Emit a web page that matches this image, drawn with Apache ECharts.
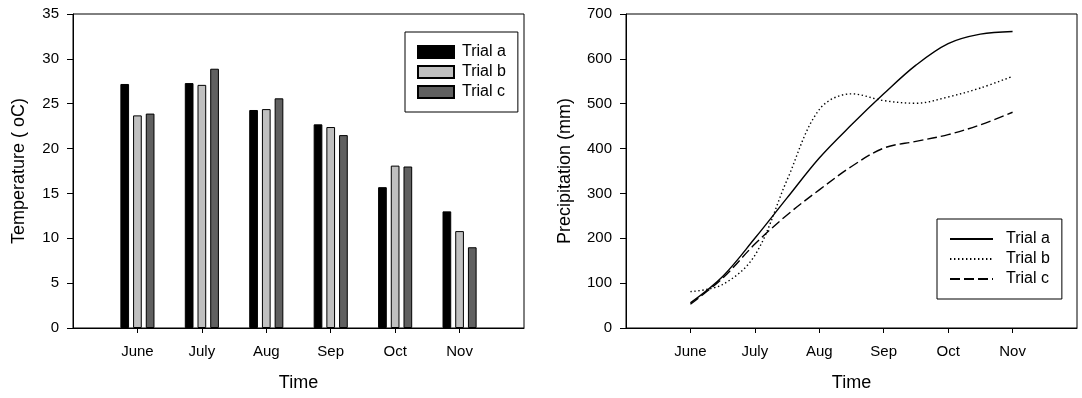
<!DOCTYPE html>
<html>
<head>
<meta charset="utf-8">
<script src="https://cdn.jsdelivr.net/npm/echarts@6/dist/echarts.min.js"></script>
<style>
  html, body { margin: 0; padding: 0; background: #fff; }
  #chart { width: 1082px; height: 398px; }
</style>
</head>
<body>
<div id="chart"></div>
<script>
// month names and the bar heights (temperature, oC)
const months = ['June', 'July', 'Aug', 'Sep', 'Oct', 'Nov']
const tempA = [27.2, 27.3, 24.3, 22.7, 15.7, 13.0]
const tempB = [23.7, 27.1, 24.4, 22.4, 18.1, 10.8]
const tempC = [23.9, 28.9, 25.6, 21.5, 18.0, 9.0]

// precipitation read at every half month (1 = June ... 6 = Nov)
const precipX = [1, 1.5, 2, 2.5, 3, 3.5, 4, 4.5, 5, 5.5, 6]
const precipA = [56, 115, 200, 290, 379, 453, 522, 586, 634, 655, 661]
const precipB = [81, 97, 162, 330, 487, 522, 507, 501, 515, 535, 561]
const precipC = [53, 111, 187, 252, 308, 360, 401, 416, 431, 453, 481]

const tempTicks = { min: 0, max: 35, interval: 5 }
const precipTicks = { min: 0, max: 700, interval: 100 }

const font = 'Liberation Sans, Arial, sans-serif'
const chart = echarts.init(document.getElementById('chart'))

const xCats = [''].concat(months, [''])
const pad = arr => [null].concat(arr, [null])
const pairs = arr => arr.map((v, i) => [precipX[i], v])

const barSeries = (name, data, color) => ({
  name: name,
  type: 'bar',
  xAxisIndex: 0,
  yAxisIndex: 0,
  barWidth: 8.7,
  barGap: '46%',
  itemStyle: { color: color, borderColor: '#000', borderWidth: 1 },
  data: pad(data)
})

const lineSeries = (name, data, type) => ({
  name: 'line:' + name,
  type: 'line',
  xAxisIndex: 1,
  yAxisIndex: 1,
  smooth: 0.35,
  symbol: 'none',
  itemStyle: { color: '#000' },
  lineStyle: { color: '#000', width: 1.4, type: type },
  data: pairs(data)
})

const yAxisBase = (ticks, name, gap) => ({
  type: 'value',
  min: ticks.min,
  max: ticks.max,
  interval: ticks.interval,
  name: name,
  nameLocation: 'middle',
  nameGap: gap,
  nameTextStyle: { color: '#000', fontSize: 18, fontFamily: font },
  axisLine: { show: true, lineStyle: { color: '#000', width: 1 } },
  axisTick: { show: true, length: 6, lineStyle: { color: '#000' } },
  axisLabel: { color: '#000', fontSize: 15, fontFamily: font, margin: 14 },
  splitLine: { show: false }
})

chart.setOption({
  backgroundColor: '#fff',
  animation: false,
  grid: [
    { left: 73, top: 14, width: 451, height: 314, show: true, borderColor: '#000', borderWidth: 1 },
    { left: 626, top: 14, width: 451, height: 314, show: true, borderColor: '#000', borderWidth: 1 }
  ],
  legend: [
    {
      orient: 'vertical',
      left: 405,
      top: 32,
      padding: [12, 12, 12, 12],
      icon: 'rect',
      itemWidth: 36,
      itemHeight: 12,
      itemGap: 4,
      borderColor: '#000',
      borderWidth: 1,
      textStyle: { color: '#000', fontSize: 16, fontFamily: font, lineHeight: 16, padding: [0, 0, 0, 3] },
      data: ['Trial a', 'Trial b', 'Trial c']
    },
    {
      orient: 'vertical',
      left: 937,
      top: 219,
      padding: [12, 12, 12, 12],
      itemWidth: 43,
      itemHeight: 12,
      itemGap: 4,
      borderColor: '#000',
      borderWidth: 1,
      itemStyle: { opacity: 0 },
      formatter: n => n.replace('line:', ''),
      textStyle: { color: '#000', fontSize: 16, fontFamily: font, lineHeight: 16, padding: [0, 0, 0, 8] },
      data: ['line:Trial a', 'line:Trial b', 'line:Trial c']
    }
  ],
  xAxis: [
    {
      type: 'category',
      gridIndex: 0,
      data: xCats,
      boundaryGap: false,
      name: 'Time',
      nameLocation: 'middle',
      nameGap: 46,
      nameTextStyle: { color: '#000', fontSize: 18, fontFamily: font },
      axisLine: { lineStyle: { color: '#000', width: 1 } },
      axisTick: { length: 5, interval: (i) => i > 0 && i < xCats.length - 1, lineStyle: { color: '#000' } },
      axisLabel: { color: '#000', fontSize: 15, fontFamily: font, margin: 16, interval: 0 },
      splitLine: { show: false }
    },
    {
      type: 'value',
      gridIndex: 1,
      min: 0,
      max: 7,
      interval: 1,
      name: 'Time',
      nameLocation: 'middle',
      nameGap: 46,
      nameTextStyle: { color: '#000', fontSize: 18, fontFamily: font },
      axisLine: { show: true, lineStyle: { color: '#000', width: 1 } },
      axisTick: { show: true, length: 5, customValues: [1, 2, 3, 4, 5, 6], lineStyle: { color: '#000' } },
      axisLabel: {
        color: '#000', fontSize: 15, fontFamily: font, margin: 16,
        customValues: [1, 2, 3, 4, 5, 6],
        formatter: v => months[v - 1]
      },
      splitLine: { show: false }
    }
  ],
  yAxis: [
    Object.assign(yAxisBase(tempTicks, 'Temperature ( oC)', 45), { gridIndex: 0 }),
    Object.assign(yAxisBase(precipTicks, 'Precipitation (mm)', 52), { gridIndex: 1 })
  ],
  series: [
    barSeries('Trial a', tempA, '#000'),
    barSeries('Trial b', tempB, '#c0c0c0'),
    barSeries('Trial c', tempC, '#606060'),
    lineSeries('Trial a', precipA, 'solid'),
    lineSeries('Trial b', precipB, [1.4, 2.6]),
    lineSeries('Trial c', precipC, [10, 4])
  ]
})
</script>
</body>
</html>
